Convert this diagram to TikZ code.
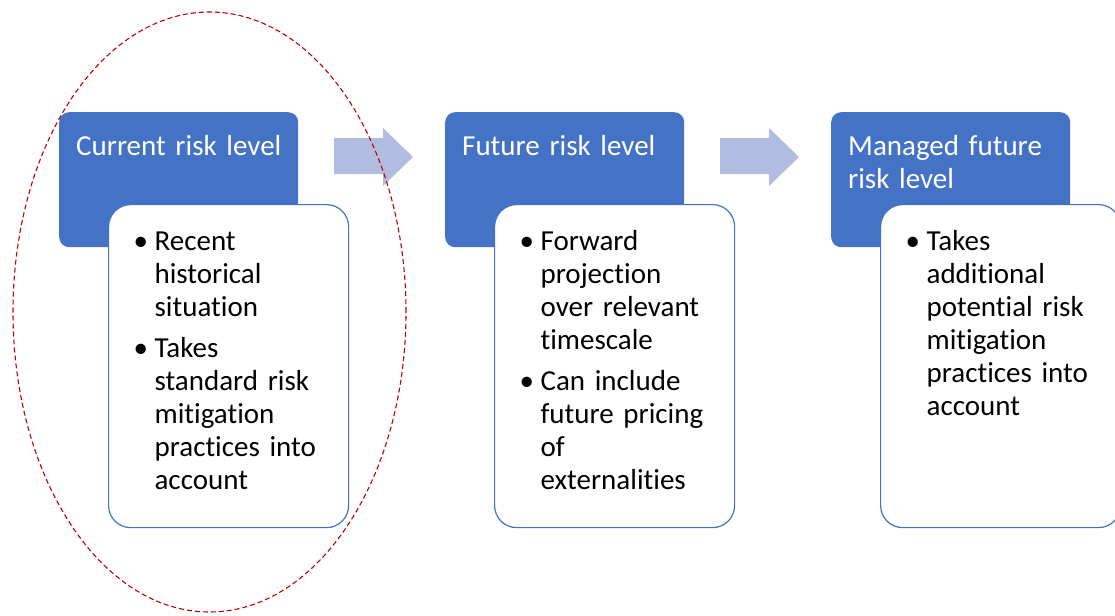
\documentclass[tikz,border=0pt]{standalone}
\usepackage{fontspec}
\setmainfont{Carlito}[Ligatures=NoCommon]
\definecolor{boxblue}{RGB}{68,114,196}
\definecolor{arrowblue}{RGB}{176,189,225}
\definecolor{ringred}{RGB}{192,0,0}
\newcommand{\riskitem}[1]{\hangindent=21pt\hangafter=1\noindent\makebox[21pt][l]{\textbullet}#1\par}
\tikzset{
  levelbox/.style={anchor=north west, fill=boxblue, rounded corners=10pt, text=white,
    text width=205pt, inner xsep=17pt, inner ysep=0pt, text height=43pt, text depth=92pt,
    align=left, font=\fontsize{29}{33}\selectfont},
  notebox/.style={anchor=north west, fill=white, draw=boxblue, line width=1.2pt, rounded corners=22pt,
    text width=190pt, inner xsep=25pt, inner ysep=0pt, text height=46pt, text depth=277pt,
    font=\fontsize{29}{33}\selectfont},
  stagearrow/.style={fill=arrowblue}
}

\begin{document}
\begin{tikzpicture}[x=1pt,y=-1pt]
  \clip (0,0) rectangle (1115,615);

  \node[levelbox] (cur) at (59,112) {\mbox{Current risk level}};
  \node[notebox] (curnote) at (108,204) {\raggedright
    \riskitem{Recent\newline historical\newline situation}\vspace{8pt}
    \riskitem{Takes\newline standard risk\newline mitigation\newline practices into\newline account}};

  \node[levelbox] (fut) at (445,112) {Future risk level};
  \node[notebox] (futnote) at (494,204) {\raggedright
    \riskitem{Forward\newline projection\newline over relevant\newline timescale}\vspace{8pt}
    \riskitem{Can include\newline future pricing\newline of\newline externalities}};

  \node[levelbox] (man) at (831,112) {Managed future\\risk level};
  \node[notebox] (mannote) at (880,204) {\raggedright
    \riskitem{Takes\newline additional\newline potential risk\newline mitigation\newline practices into\newline account}};

  % block arrows between the stages
  \fill[stagearrow] (334,138) -- (383,138) -- (383,128) -- (413,157) -- (383,186) -- (383,174) -- (334,174) -- cycle;
  \fill[stagearrow] (720,138) -- (769,138) -- (769,128) -- (799,157) -- (769,186) -- (769,174) -- (720,174) -- cycle;

  \draw[ringred, line width=1.1pt, dash pattern=on 5pt off 3pt] (209.5,312) ellipse [x radius=196.5pt, y radius=300pt];
\end{tikzpicture}
\end{document}
